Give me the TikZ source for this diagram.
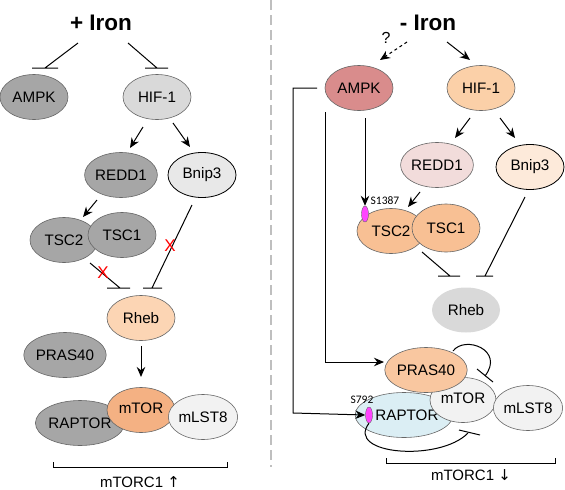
\documentclass[tikz,border=0pt]{standalone}
\usepackage{fontspec}
\setmainfont{Liberation Sans}
\newfontfamily\carl{Carlito}
\newfontfamily\dv{DejaVu Sans}
\usetikzlibrary{shapes.geometric,arrows.meta}
\definecolor{gdark}{HTML}{A6A6A6}
\definecolor{glight}{HTML}{D9D9D9}
\definecolor{gpale}{HTML}{E8E8E8}
\definecolor{gwhite}{HTML}{F2F2F2}
\definecolor{peach}{HTML}{FCD5B4}
\definecolor{orng}{HTML}{F4B183}
\definecolor{rose}{HTML}{D98C8C}
\definecolor{hifr}{HTML}{FBD0A8}
\definecolor{reddr}{HTML}{F2DCDB}
\definecolor{bnipr}{HTML}{FDEADA}
\definecolor{tscr}{HTML}{F8C094}
\definecolor{prasr}{HTML}{F9C7A0}
\definecolor{raptr}{HTML}{DBEEF4}
\definecolor{mag}{HTML}{FF44FF}
\begin{document}
\begin{tikzpicture}[x=1pt,y=-1pt,
  ell/.style={ellipse,draw=black!60,line width=0.6pt,minimum width=68pt,minimum height=45pt,inner sep=0pt,font=\fontsize{15.2}{17}\selectfont},
  title/.style={font=\bfseries\fontsize{22.5}{24}\selectfont},
  act/.style={-{Stealth[length=10pt,width=8.5pt]},line width=1pt},
  inh/.style={line width=1pt},
  phos/.style={ellipse,draw=black!60,fill=mag,minimum width=7pt,minimum height=16pt,inner sep=0pt,line width=0.4pt},
  small/.style={font=\carl\fontsize{11.5}{12}\selectfont},
  redx/.style={text=red,font=\fontsize{17}{17}\selectfont,inner sep=0pt},
  brack/.style={line width=0.9pt}
]
\useasboundingbox (0,0) rectangle (565,490);
% divider
\draw[black!25,line width=1.6pt,dash pattern=on 10pt off 5pt] (271,0) -- (271,467);

% ===== left panel =====
\node[title] (tl) at (101,23) {+ Iron};
\node[ell,fill=gdark] (lampk) at (34,97) {AMPK};
\node[ell,fill=glight] (lhif) at (157,97) {HIF-1};
\node[ell,fill=gdark] (lredd) at (121,175) {REDD1};
\node[ell,fill=gpale,draw=black,line width=0.8pt] (lbnip) at (202,175) {Bnip3};
\node[ell,fill=gdark] (ltsc2) at (64,240) {TSC2};
\node[ell,fill=gdark] (ltsc1) at (122,235) {TSC1};
\node[ell,fill=peach] (lrheb) at (141,318) {Rheb};
\node[ell,fill=gdark] (lpras) at (65,355) {PRAS40};
\node[ell,fill=gdark] (lrap) at (80,423) {RAPTOR};
\node[ell,fill=orng] (lmtor) at (141,410) {\raisebox{3pt}{mTOR}};
\node[ell,fill=gwhite] (lmlst) at (203,417) {mLST8};

\coordinate (lt1) at (78,43); \coordinate (lb1) at (45,68);
\coordinate (lt2) at (128,43); \coordinate (lb2) at (157,68);
\draw[inh] (lt1) -- (lb1) ++(-13,0) -- ++(26,0);
\draw[inh] (lt2) -- (lb2) ++(-12,0) -- ++(23,0);
\draw[act] (143,127) -- (130,148);
\draw[act] (173,123) -- (190,147);
\draw[act] (97,200) -- (83,217);
\coordinate (lb3) at (120,288); \coordinate (lb4) at (152,288);
\draw[inh] (90,263) -- (lb3) ++(-13,0) -- ++(23,0);
\draw[inh] (192,205) -- (lb4) ++(-9,0) -- ++(19,0);
\node[redx] (x1) at (103,273) {X};
\node[redx] (x2) at (170,246) {X};
\draw[act] (lrheb.south) ++(0,5) -- (141,377);
\draw[brack] (53,462) -- (53,467) -- (227,467) -- (227,462);
\node[font=\fontsize{15}{16}\selectfont] (lc) at (140,482) {mTORC1 {\dv↑}};

% ===== right panel =====
\node[title] (tr) at (428,23) {- Iron};
\node[ell,fill=rose] (rampk) at (359,88) {AMPK};
\node[ell,fill=hifr] (rhif) at (481,88) {HIF-1};
\node[ell,fill=reddr] (rredd) at (437,165) {REDD1};
\node[ell,fill=bnipr,draw=black,line width=0.8pt] (rbnip) at (530,167) {Bnip3};
\node[ell,fill=tscr] (rtsc2) at (391,231) {TSC2};
\node[ell,fill=tscr,minimum height=48pt] (rtsc1) at (446,228) {TSC1};
\node[ell,fill=glight,draw=none] (rrheb) at (466,310) {Rheb};
\node[ell,fill=raptr] (rrap) at (404,415) {\hspace*{6pt}RAPTOR};
\node[ell,fill=gwhite,minimum width=66pt] (rmtor) at (463,400) {\raisebox{3pt}{mTOR}};
\node[ell,fill=prasr] (rpras) at (426,370) {PRAS40};
\node[ell,fill=gwhite] (rmlst) at (528,408) {mLST8};

\node[font=\fontsize{16}{16}\selectfont] (q) at (386,38) {?};
\draw[act,dashed] (407,42) -- (380,60);
\draw[act] (447,42) -- (470,60);
\draw[act] (470,118) -- (455,138);
\draw[act] (500,118) -- (515,138);
\draw[act] (420,192) -- (408,207);
\node[phos] (p1) at (365,214) {};
\node[small] (s1) at (385,201) {S1387};
\coordinate (k0) at (365,118);
\draw[act] (k0) -- (p1.north);
\coordinate (rb1) at (450,276); \coordinate (rb2) at (485,276);
\draw[inh] (422,252) -- (rb1) ++(-12,0) -- ++(22,0);
\draw[inh] (525,197) -- (rb2) ++(-9,0) -- ++(17,0);
\node[phos] (p2) at (369,415) {};
\node[small] (s2) at (362,400) {S792};
\coordinate (k1) at (317,88); \coordinate (k2) at (293,88); \coordinate (k3) at (293,413);
\draw[act] (k1) -- (k2) -- (k3) -- (p2.west);
\coordinate (k4) at (325,112); \coordinate (k5) at (325,362);
\draw[act] (k4) -- (k5) -- (384,362);
% loops
\draw[inh] (453,351) .. controls (465,335) and (505,350) .. (485,376);
\draw[inh] (477,369) -- (493,382);
\draw[inh] (p2.south) .. controls (345,455) and (440,462) .. (468,433);
\draw[inh] (459,430) -- (480,435);
\draw[brack] (386,458) -- (386,463) -- (555,463) -- (555,458);
\node[font=\fontsize{15}{16}\selectfont] (rc) at (471,475) {mTORC1 {\dv↓}};
\end{tikzpicture}
\end{document}
